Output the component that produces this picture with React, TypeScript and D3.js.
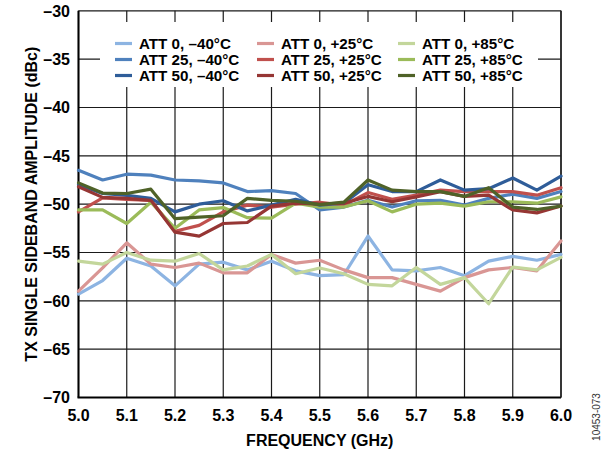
import React from "react";
import * as d3 from "d3";

const frequencies = [5.0, 5.05, 5.1, 5.15, 5.2, 5.25, 5.3, 5.35, 5.4, 5.45, 5.5, 5.55, 5.6, 5.65, 5.7, 5.75, 5.8, 5.85, 5.9, 5.95, 6.0];

const att0m40 = [-59.3, -57.9, -55.6, -56.4, -58.45, -56.2, -56.0, -56.8, -55.9, -56.9, -57.4, -57.3, -53.3, -56.8, -56.9, -56.55, -57.4, -55.9, -55.4, -55.8, -55.2];
const att0p25 = [-59.0, -56.6, -54.0, -56.2, -56.55, -56.1, -57.1, -57.1, -55.2, -56.1, -55.8, -56.8, -57.6, -57.6, -58.3, -59.0, -57.6, -56.8, -56.55, -56.9, -53.8];
const att0p85 = [-55.9, -56.2, -55.0, -55.8, -55.9, -55.1, -56.8, -56.4, -55.2, -57.2, -56.6, -57.2, -58.3, -58.45, -56.55, -58.3, -57.6, -60.3, -56.5, -56.8, -55.5];
const att25m40 = [-46.5, -47.5, -46.9, -47.0, -47.5, -47.6, -47.8, -48.7, -48.6, -48.9, -50.6, -50.3, -49.6, -50.3, -49.65, -49.6, -50.1, -49.4, -48.97, -49.4, -48.7];
const att25p25 = [-50.8, -49.35, -49.5, -49.6, -52.8, -52.2, -50.8, -50.1, -50.3, -50.0, -49.8, -50.1, -48.8, -49.5, -49.07, -48.55, -48.7, -48.7, -48.7, -49.07, -48.3];
const att25p85 = [-50.6, -50.6, -52.0, -49.8, -52.5, -50.6, -50.35, -51.4, -51.45, -49.9, -50.3, -50.3, -49.65, -50.8, -50.0, -49.9, -50.2, -49.75, -49.75, -49.9, -49.25];
const att50m40 = [-48.0, -48.9, -49.1, -49.4, -50.8, -50.0, -49.65, -50.7, -50.1, -49.5, -50.1, -49.9, -48.0, -48.7, -48.7, -47.5, -48.55, -48.4, -47.3, -48.55, -47.1];
const att50p25 = [-48.2, -49.3, -49.4, -49.6, -52.9, -53.3, -52.0, -51.9, -50.2, -49.9, -50.0, -49.9, -49.2, -49.75, -49.25, -48.7, -49.2, -49.07, -50.6, -50.9, -50.2];
const att50p85 = [-47.8, -48.85, -48.9, -48.45, -51.5, -51.35, -51.2, -49.4, -49.6, -49.7, -50.05, -49.8, -47.5, -48.55, -48.7, -48.7, -49.2, -48.3, -50.3, -50.55, -50.2];

const seriesNames = [
  "ATT 0, \u201340\u00B0C", "ATT 0, +25\u00B0C", "ATT 0, +85\u00B0C",
  "ATT 25, \u201340\u00B0C", "ATT 25, +25\u00B0C", "ATT 25, +85\u00B0C",
  "ATT 50, \u201340\u00B0C", "ATT 50, +25\u00B0C", "ATT 50, +85\u00B0C",
];
const seriesValues = [att0m40, att0p25, att0p85, att25m40, att25p25, att25p85, att50m40, att50p25, att50p85];
const seriesColors = [
  "#8DB4E2", "#D99694", "#C3D69B",
  "#4F81BD", "#C0504D", "#9BBB59",
  "#2F5D99", "#963634", "#4F6228",
];

const xTicks = [5.0, 5.1, 5.2, 5.3, 5.4, 5.5, 5.6, 5.7, 5.8, 5.9, 6.0];
const yTicks = [-30, -35, -40, -45, -50, -55, -60, -65, -70];

const FONT = "'Liberation Sans', Arial, Helvetica, sans-serif";

export default function App() {
  const W = 608, H = 456;
  const left = 78.5, right = 561, top = 10.8, bottom = 397.5;
  const x = d3.scaleLinear().domain([5.0, 6.0]).range([left, right]);
  const y = d3.scaleLinear().domain([-70, -30]).range([bottom, top]);
  const line = d3.line<number>()
    .x((_, i) => x(frequencies[i]))
    .y((v) => y(v));

  const legendCols = [115, 257, 398];
  const legendRows = [43.5, 59.5, 75.5];

  return (
    <svg width={W} height={H} style={{ position: "fixed", left: 0, top: 0, background: "#fff" }}
      fontFamily={FONT}>
      <rect x={0} y={0} width={W} height={H} fill="#fff" />
      {/* grid */}
      {xTicks.map((t) => (
        <line key={"gx" + t} x1={x(t)} x2={x(t)} y1={top} y2={bottom} stroke="#1a1a1a" strokeWidth={1.2} />
      ))}
      {yTicks.map((t) => (
        <line key={"gy" + t} x1={left} x2={right} y1={y(t)} y2={y(t)} stroke="#1a1a1a" strokeWidth={1.2} />
      ))}
      {/* legend background */}
      <rect x={100} y={22} width={438} height={65} fill="#fff" />
      {/* frame */}
      <line x1={left} x2={left} y1={top} y2={bottom} stroke="#000" strokeWidth={2} />
      <line x1={left - 1} x2={right} y1={bottom} y2={bottom} stroke="#000" strokeWidth={2.2} />
      <line x1={right} x2={right} y1={top} y2={bottom} stroke="#222" strokeWidth={1.5} />
      {/* series */}
      {seriesValues.map((vals, k) => (
        <path key={"s" + k} d={line(vals) || ""} fill="none" stroke={seriesColors[k]}
          strokeWidth={3.2} strokeLinejoin="round" strokeLinecap="round" />
      ))}
      {/* y tick labels */}
      {yTicks.map((t) => (
        <text key={"yl" + t} x={70} y={y(t) + 5.7} textAnchor="end" fontSize={16} fontWeight="bold" fill="#000">
          {t < 0 ? "\u2013" + Math.abs(t) : String(t)}
        </text>
      ))}
      {/* x tick labels */}
      {xTicks.map((t) => (
        <text key={"xl" + t} x={x(t)} y={420.5} textAnchor="middle" fontSize={16} fontWeight="bold" fill="#000">
          {t.toFixed(1)}
        </text>
      ))}
      {/* axis titles */}
      <text x={(left + right) / 2} y={446} textAnchor="middle" fontSize={16} fontWeight="bold" fill="#000">
        FREQUENCY (GHz)
      </text>
      <text transform={`translate(36.5, ${(top + bottom) / 2}) rotate(-90)`} textAnchor="middle"
        fontSize={16} fontWeight="bold" fill="#000">
        TX SINGLE SIDEBAND AMPLITUDE (dBc)
      </text>
      {/* legend */}
      {seriesNames.map((name, k) => {
        const col = k % 3;
        const row = Math.floor(k / 3);
        const lx = legendCols[col];
        const ly = legendRows[row];
        return (
          <g key={"lg" + k}>
            <line x1={lx} x2={lx + 17} y1={ly} y2={ly} stroke={seriesColors[k]} strokeWidth={3.2} />
            <text x={lx + 24} y={ly + 5.4} fontSize={15.2} fontWeight="bold" fill="#000">{name}</text>
          </g>
        );
      })}
      {/* figure id */}
      <text transform="translate(600, 417) rotate(-90)" textAnchor="middle" fontSize={10} fill="#333">
        10453-073
      </text>
    </svg>
  );
}
